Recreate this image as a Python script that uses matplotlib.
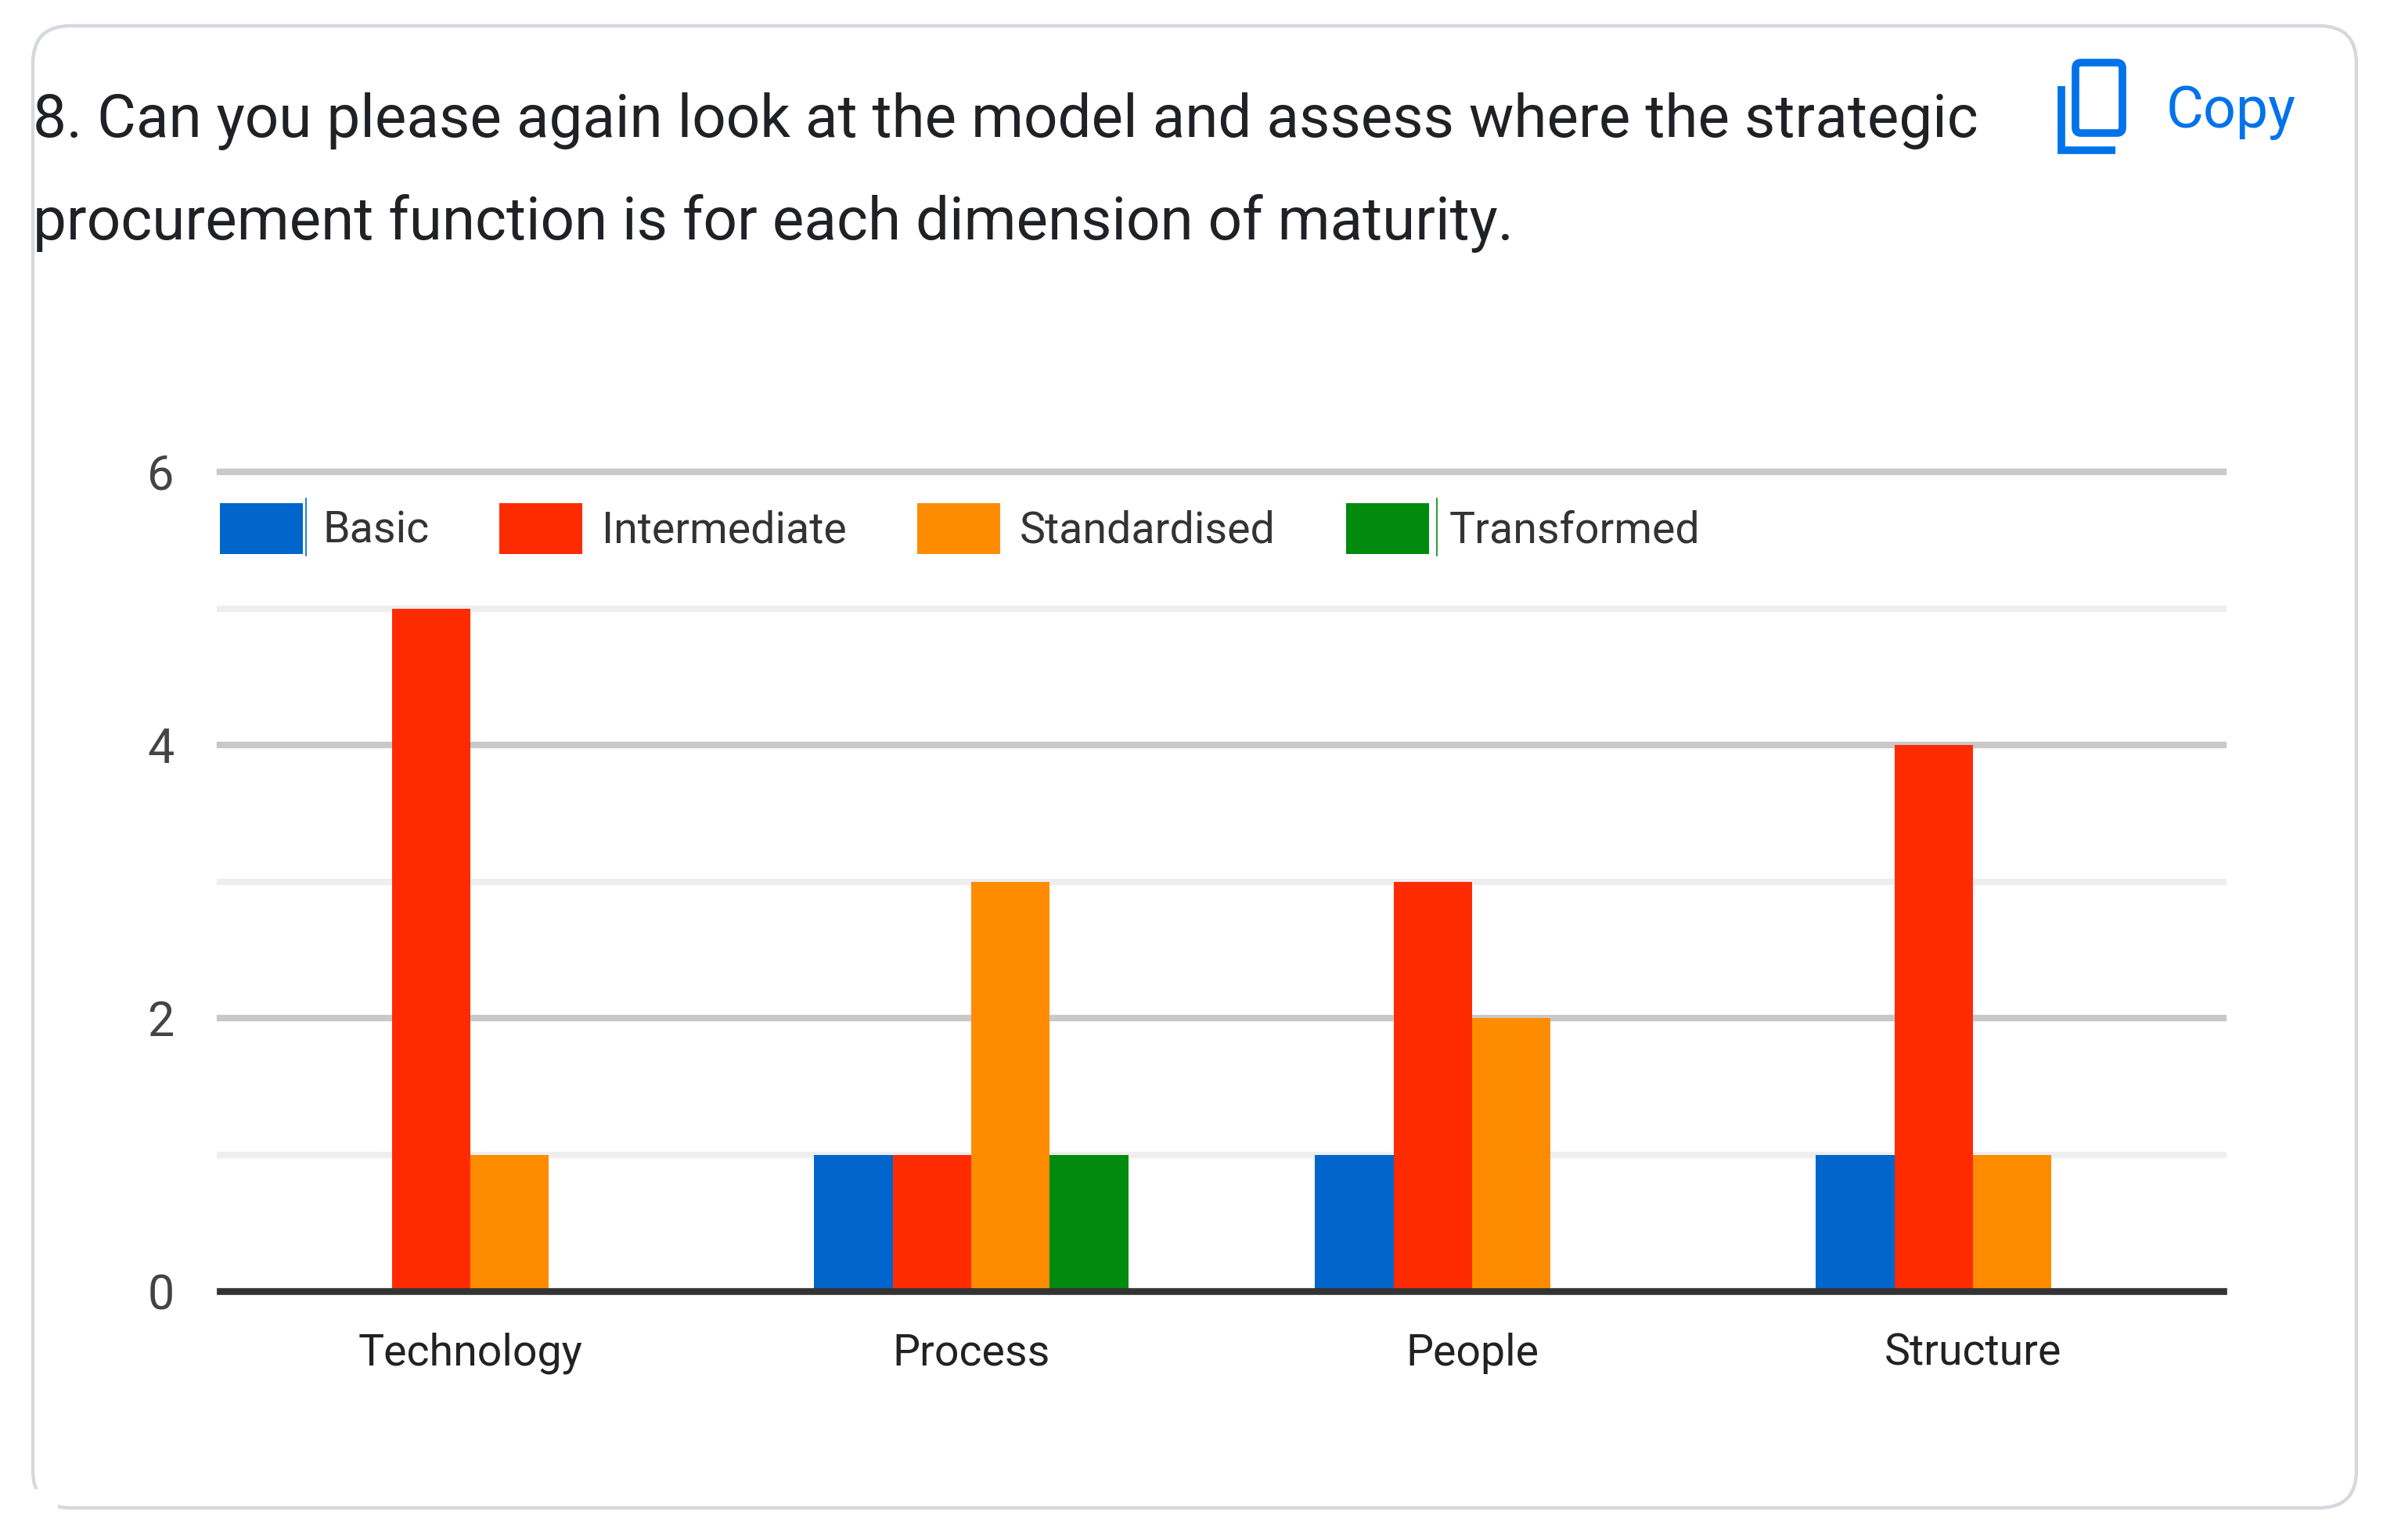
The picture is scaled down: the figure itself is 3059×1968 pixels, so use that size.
import numpy as np
import matplotlib
matplotlib.use('Agg')
import matplotlib.pyplot as plt
from matplotlib.patches import FancyBboxPatch, Rectangle, Patch

W, H = 3059, 1968

categories = ['Technology', 'Process', 'People', 'Structure']
basic = [0, 1, 1, 1]
intermediate = [5, 1, 3, 4]
standardised = [1, 3, 2, 1]
transformed = [0, 1, 0, 0]
series_names = ['Basic', 'Intermediate', 'Standardised', 'Transformed']
series_colors = ['#0066CC', '#FF2B00', '#FF8C00', '#008A0E']

title_lines = ['8. Can you please again look at the model and assess where the strategic',
               'procurement function is for each dimension of maturity.']

plt.rcParams['font.family'] = ['Roboto', 'DejaVu Sans']

fig = plt.figure(figsize=(W / 100, H / 100), dpi=100, facecolor='white')

# pixel layer for the card, title and copy button
bg = fig.add_axes([0, 0, 1, 1])
bg.set_xlim(0, W)
bg.set_ylim(H, 0)
bg.axis('off')

card = FancyBboxPatch((42, 33), 2969, 1894, boxstyle='round,pad=0,rounding_size=48',
                      fc='white', ec='#d5d8dd', lw=3.2)
bg.add_patch(card)
bg.add_patch(Rectangle((34, 1903), 40, 32, fc='white', ec='none', zorder=3))

bg.text(42, 175, title_lines[0], fontsize=55, color='#202124', va='baseline', ha='left')
bg.text(42, 306, title_lines[1], fontsize=55, color='#202124', va='baseline', ha='left')

blue = '#0073EA'
bg.add_patch(FancyBboxPatch((2652, 80), 60, 90, boxstyle='round,pad=0,rounding_size=7',
                            fc='none', ec=blue, lw=7))
bg.plot([2634, 2634, 2703], [110, 192, 192], color=blue, lw=7, solid_joinstyle='miter',
        solid_capstyle='butt')
bg.text(2768, 163, 'Copy', fontsize=53, color=blue, va='baseline', ha='left')

# thin slivers next to two legend swatches
bg.plot([391, 391], [637, 710], color=series_colors[0], lw=1.2)
bg.plot([1836, 1836], [637, 710], color=series_colors[3], lw=1.2)

# chart
ax = fig.add_axes([281 / W, 1 - 1650 / H, (2841 - 281) / W, (1650 - 603) / H])
ax.patch.set_alpha(0)
x = np.arange(len(categories))
bar_w = 0.157
all_series = [basic, intermediate, standardised, transformed]
for i, vals in enumerate(all_series):
    ax.bar(x + (i - 1.5) * bar_w, vals, bar_w, color=series_colors[i], zorder=3)

ax.set_xlim(-0.5, 3.5)
ax.set_ylim(0, 6)
ax.set_xticks(x)
ax.set_xticklabels(categories, fontsize=40, color='#222222')
ax.set_yticks([0, 2, 4, 6])
ax.set_yticks([1, 3, 5], minor=True)
ax.tick_params(axis='x', length=0, pad=38)
ax.tick_params(axis='y', which='major', length=0, pad=42, labelsize=44, labelcolor='#444444')
ax.tick_params(axis='y', which='minor', length=0)
ax.grid(axis='y', which='major', color='#C8C8C8', lw=6, zorder=1)
ax.grid(axis='y', which='minor', color='#EEEEEE', lw=6, zorder=1)
for tick in ax.yaxis.get_major_ticks() + ax.yaxis.get_minor_ticks():
    tick.gridline.set_clip_on(False)
for name in ['top', 'left', 'right']:
    ax.spines[name].set_visible(False)
ax.spines['bottom'].set_color('#333333')
ax.spines['bottom'].set_linewidth(6.2)
ax.spines['bottom'].set_zorder(4)
ax.set_axisbelow(True)

handles = [Patch(fc=c, ec='none') for c in series_colors]
leg = ax.legend(handles, series_names, ncol=4, frameon=False, fontsize=40,
                loc='upper left', bbox_to_anchor=(0, 0.962), borderaxespad=0, borderpad=0,
                handlelength=1.9, handleheight=1.42, handletextpad=0.46, columnspacing=1.62)
for t in leg.get_texts():
    t.set_color('#333333')

fig.savefig('out.png', dpi=100)
